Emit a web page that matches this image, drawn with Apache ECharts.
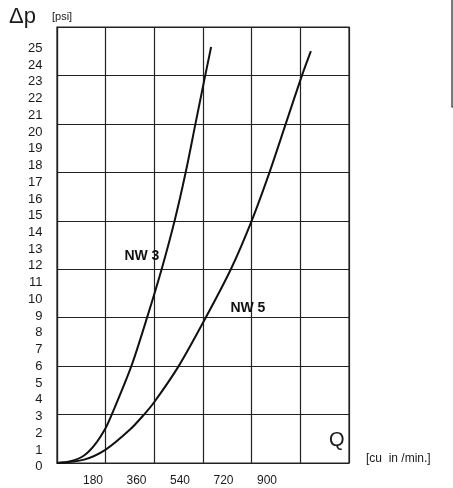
<!DOCTYPE html>
<html>
<head>
<meta charset="utf-8">
<script src="https://cdn.jsdelivr.net/npm/echarts@6/dist/echarts.min.js"></script>
<style>
html,body{margin:0;padding:0;background:#fff;}
#chart{width:453px;height:488px;}
</style>
</head>
<body>
<div id="chart"></div>
<script>
// Flow Q [cu in/min] vs pressure drop Δp [psi]
const nw3 = [[0,0],[50,0.1],[100,0.45],[140,1.1],[180,2.1],[200,2.8],[275,5.8],[333,8.7],[387,11.6],[435,14.5],[476,17.4],[512,20.3],[547,23.1],[570,24.9]];
const nw5 = [[0,0],[100,0.2],[180,0.8],[270,2.0],[322,2.9],[360,3.65],[450,5.8],[550,8.7],[643,11.6],[720,14.5],[786,17.4],[846,20.3],[906,23.2],[939,24.66]];
const seriesNames = ['NW 3','NW 5'];
const seriesLabelAt = [[314,12.4],[706,9.3]];
const xTickLabels = [180,360,540,720,900];
const yTickLabels = [0,1,2,3,4,5,6,7,8,9,10,11,12,13,14,15,16,17,18,19,20,21,22,23,24,25];

const FONT = "'Liberation Sans', Arial, sans-serif";
const INK = '#1a1a1a';
const gridLine = {color:'#222', width:1.2};

const chart = echarts.init(document.getElementById('chart'), null, {renderer:'canvas'});
chart.setOption({
  backgroundColor:'#fff',
  animation:false,
  grid:[
    {left:57, top:27, width:292, height:436, show:true, borderColor:'#222', borderWidth:1.2, backgroundColor:'transparent'},
    {left:49.5, top:48.3, width:261, height:418.4, show:false}
  ],
  xAxis:[
    {gridIndex:0, type:'value', min:0, max:1080, interval:180,
     axisLine:{show:true, lineStyle:gridLine}, axisTick:{show:false}, axisLabel:{show:false},
     splitLine:{show:true, lineStyle:gridLine}},
    {gridIndex:1, type:'value', min:0, max:1080, interval:180,
     axisLine:{show:false}, axisTick:{show:false}, splitLine:{show:false},
     axisLabel:{show:true, margin:8, fontFamily:FONT, fontSize:12, color:INK,
       formatter:v => xTickLabels.includes(v) ? String(v) : ''}}
  ],
  yAxis:[
    {gridIndex:0, type:'value', min:0, max:26.1, interval:2.9,
     axisLine:{show:true, lineStyle:gridLine}, axisTick:{show:false}, axisLabel:{show:false},
     splitLine:{show:true, lineStyle:gridLine}},
    {gridIndex:1, type:'value', min:0, max:25, interval:1,
     axisLine:{show:false}, axisTick:{show:false}, splitLine:{show:false},
     axisLabel:{show:true, margin:7, fontFamily:FONT, fontSize:13, color:INK,
       formatter:v => yTickLabels.includes(v) ? String(v) : ''}}
  ],
  series:[nw3, nw5].map((d,i) => ({
    name:seriesNames[i], type:'line', xAxisIndex:0, yAxisIndex:0,
    data:d, smooth:0.3, showSymbol:false, symbol:'none',
    lineStyle:{color:'#111', width:2},
    markPoint:{
      symbol:'circle', symbolSize:0,
      data:[{coord:seriesLabelAt[i], value:seriesNames[i]}],
      label:{show:true, position:'inside', formatter:seriesNames[i],
        fontFamily:FONT, fontSize:14, fontWeight:'bold', color:'#111'}
    }
  })),
  graphic:[
    {type:'text', left:9, top:6, style:{text:'Δp', font:"22px 'Liberation Sans', Arial, sans-serif", fill:INK}},
    {type:'text', left:52, top:11, style:{text:'[psi]', font:"11px 'Liberation Sans', Arial, sans-serif", fill:INK}},
    {type:'text', left:329, top:430, style:{text:'Q', font:"20px 'Liberation Sans', Arial, sans-serif", fill:INK}},
    {type:'text', left:366, top:453, style:{text:'[cu  in /min.]', font:"12px 'Liberation Sans', Arial, sans-serif", fill:INK}},
    {type:'polyline', shape:{points:[[452,0],[452,107],[453,107]]}, style:{stroke:'#222', lineWidth:1.2, fill:null}}
  ]
});
</script>
</body>
</html>
